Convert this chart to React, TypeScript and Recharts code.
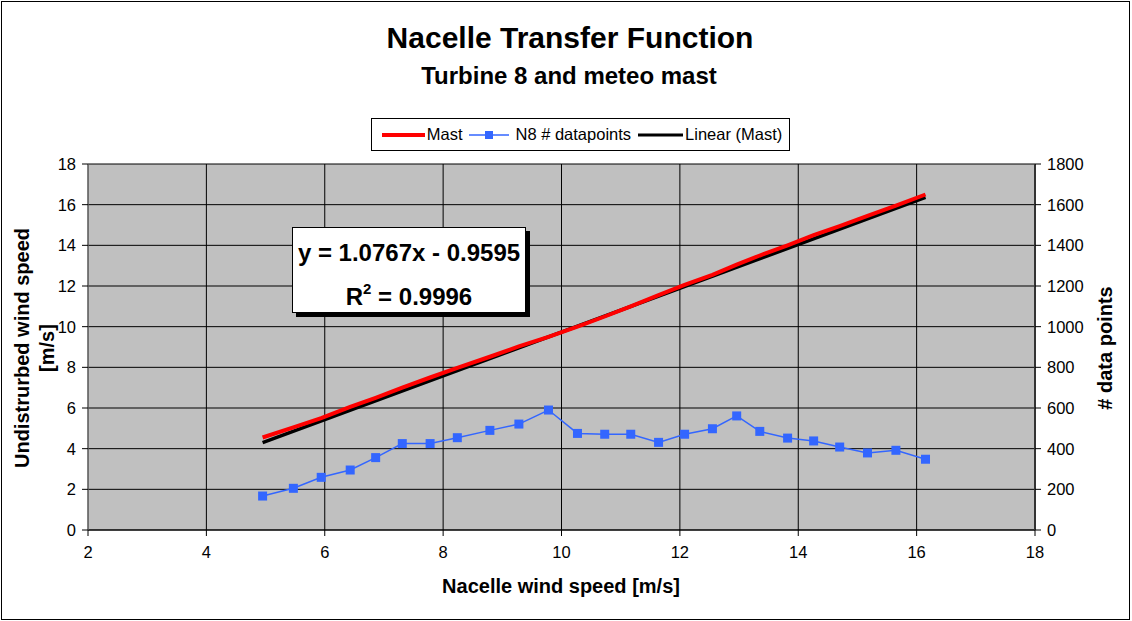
import React from "react";
import { CartesianGrid, ComposedChart, Line, XAxis, YAxis } from "recharts";

// nacelle wind speed bins [m/s]
const nacelleSpeed = [
  4.95, 5.47, 5.94, 6.43, 6.86, 7.31, 7.78, 8.24, 8.79, 9.28, 9.78, 10.27, 10.73,
  11.17, 11.64, 12.08, 12.55, 12.96, 13.35, 13.82, 14.26, 14.7, 15.17, 15.65, 16.15,
];
// mast (undisturbed) wind speed [m/s]
const mastSpeed = [
  4.55, 5.05, 5.5, 6.05, 6.5, 7.0, 7.5, 7.97, 8.52, 9.03, 9.5, 10.0, 10.5,
  11.0, 11.55, 12.05, 12.55, 13.05, 13.5, 14.0, 14.5, 14.95, 15.45, 15.95, 16.5,
];
// N8 number of datapoints per bin
const dataPoints = [
  167, 205, 259, 295, 356, 425, 425, 454, 490, 521, 590, 475, 471,
  471, 431, 471, 498, 561, 485, 452, 438, 408, 379, 392, 348,
];
// linear trendline (Mast), first and last bin only
const trendSpeed = [4.37, 16.43];

const xTicks = [2, 4, 6, 8, 10, 12, 14, 16, 18];
const leftTicks = [0, 2, 4, 6, 8, 10, 12, 14, 16, 18];
const rightTicks = [0, 200, 400, 600, 800, 1000, 1200, 1400, 1600, 1800];

const data = nacelleSpeed.map((x, i) => ({
  x,
  mast: mastSpeed[i],
  points: dataPoints[i],
  trend: i === 0 ? trendSpeed[0] : i === nacelleSpeed.length - 1 ? trendSpeed[1] : undefined,
}));

const FONT = "'Liberation Sans', Arial, sans-serif";
const tick = { fill: "#000", fontSize: 16.5, fontFamily: FONT };

const SquareDot = (props: any) => {
  const { cx, cy, index } = props;
  if (cx == null || cy == null) return <g key={index} />;
  return <rect key={index} x={cx - 4.5} y={cy - 4.5} width={9} height={9} fill="#3366FF" />;
};

export default function App() {
  return (
    <div
      style={{
        position: "absolute",
        left: 0,
        top: 0,
        width: 1132,
        height: 621,
        background: "#fff",
        fontFamily: FONT,
      }}
    >
      <div
        style={{
          position: "absolute",
          left: 1,
          top: 1,
          width: 1127,
          height: 617,
          border: "1px solid #000",
        }}
      />
      <ComposedChart
        width={1132}
        height={621}
        data={data}
        margin={{ top: 164, right: 47, bottom: 61, left: 48 }}
      >
        <CartesianGrid
          yAxisId="left"
          stroke="#000"
          strokeWidth={1}
          fill="#C0C0C0"
          fillOpacity={1}
        />
        <XAxis
          type="number"
          dataKey="x"
          domain={[2, 18]}
          ticks={xTicks}
          tick={tick}
          tickLine={{ stroke: "#000" }}
          axisLine={{ stroke: "#000" }}
          height={30}
          tickMargin={10}
        />
        <YAxis
          yAxisId="left"
          domain={[0, 18]}
          ticks={leftTicks}
          tick={tick}
          tickLine={{ stroke: "#000" }}
          axisLine={{ stroke: "#808080" }}
          width={40}
          tickMargin={6}
        />
        <YAxis
          yAxisId="right"
          orientation="right"
          domain={[0, 1800]}
          ticks={rightTicks}
          tick={tick}
          tickLine={{ stroke: "#000" }}
          axisLine={{ stroke: "#333", strokeWidth: 2 }}
          width={50}
          tickMargin={6}
        />
        <Line
          yAxisId="left"
          dataKey="trend"
          stroke="#000"
          strokeWidth={3.5}
          dot={false}
          connectNulls
          isAnimationActive={false}
          transform="translate(0,1.5)"
        />
        <Line
          yAxisId="left"
          dataKey="mast"
          stroke="#FF0000"
          strokeWidth={4}
          dot={false}
          isAnimationActive={false}
        />
        <Line
          yAxisId="right"
          dataKey="points"
          stroke="#3366FF"
          strokeWidth={1.5}
          dot={SquareDot}
          isAnimationActive={false}
        />
      </ComposedChart>

      {/* titles */}
      <div
        style={{
          position: "absolute",
          left: 0,
          width: 1140,
          top: 21,
          textAlign: "center",
          fontSize: 30,
          fontWeight: "bold",
        }}
      >
        Nacelle Transfer Function
      </div>
      <div
        style={{
          position: "absolute",
          left: 0,
          width: 1138,
          top: 62,
          textAlign: "center",
          fontSize: 24,
          fontWeight: "bold",
        }}
      >
        Turbine 8 and meteo mast
      </div>

      {/* legend */}
      <div
        style={{
          position: "absolute",
          left: 371,
          top: 118,
          width: 417,
          height: 31,
          border: "1px solid #000",
          background: "#fff",
          display: "flex",
          alignItems: "center",
          justifyContent: "center",
          fontSize: 16.5,
          whiteSpace: "nowrap",
        }}
      >
        <svg width={48} height={10}>
          <line x1={3} y1={5} x2={46} y2={5} stroke="#FF0000" strokeWidth={4} />
        </svg>
        <span style={{ marginRight: 6 }}>Mast</span>
        <svg width={42} height={10}>
          <line x1={1} y1={5} x2={41} y2={5} stroke="#3366FF" strokeWidth={1.5} />
          <rect x={17} y={1} width={8} height={8} fill="#3366FF" />
        </svg>
        <span style={{ marginLeft: 5, marginRight: 6 }}>N8 # datapoints</span>
        <svg width={48} height={10}>
          <line x1={1} y1={5} x2={46} y2={5} stroke="#000" strokeWidth={3} />
        </svg>
        <span>Linear (Mast)</span>
      </div>

      {/* trendline equation box */}
      <div
        style={{
          position: "absolute",
          left: 292,
          top: 227,
          width: 234,
          height: 86,
          border: "1px solid #000",
          background: "#fff",
          boxShadow: "4px 4px 0 #000",
          textAlign: "center",
          fontWeight: "bold",
          fontSize: 24,
          lineHeight: "36px",
          paddingTop: 7,
          boxSizing: "border-box",
        }}
      >
        <div>y = 1.0767x - 0.9595</div>
        <div>
          R<sup style={{ fontSize: 15, verticalAlign: "11px" }}>2</sup> = 0.9996
        </div>
      </div>

      {/* axis titles */}
      <div
        style={{
          position: "absolute",
          left: 0,
          width: 1122,
          top: 575,
          textAlign: "center",
          fontSize: 20,
          fontWeight: "bold",
        }}
      >
        Nacelle wind speed [m/s]
      </div>
      <div
        style={{
          position: "absolute",
          left: 35,
          top: 348,
          width: 300,
          transform: "translate(-50%, -50%) rotate(-90deg)",
          textAlign: "center",
          fontSize: 20,
          fontWeight: "bold",
          lineHeight: "25px",
        }}
      >
        Undistrurbed wind speed
        <br />
        [m/s]
      </div>
      <div
        style={{
          position: "absolute",
          left: 1105,
          top: 348,
          width: 200,
          transform: "translate(-50%, -50%) rotate(-90deg)",
          textAlign: "center",
          fontSize: 20,
          fontWeight: "bold",
        }}
      >
        # data points
      </div>
    </div>
  );
}
